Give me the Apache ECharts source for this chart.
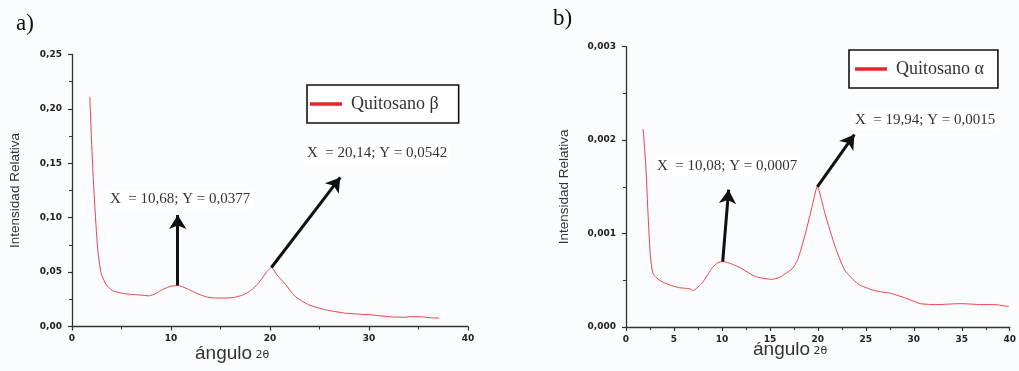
<!DOCTYPE html>
<html>
<head>
<meta charset="utf-8">
<script src="https://cdn.jsdelivr.net/npm/echarts@6/dist/echarts.min.js"></script>
<style>
  html, body { margin: 0; padding: 0; background: #fbfcfe; }
  #chart { width: 1019px; height: 371px; }
</style>
</head>
<body>
<div id="chart"></div>
<script>
// a) Quitosano beta
const betaX = [1.8, 2.0, 2.26, 2.6, 2.94, 3.45, 4.1, 5.1, 6.0, 6.8, 7.8, 8.4, 8.85, 9.4, 9.9, 10.3, 10.68, 11.3, 12.2, 13.0, 13.6, 14.5, 15.6, 16.5, 17.2, 17.9, 18.6, 19.1, 19.6, 20.14, 20.7, 21.5, 22.5, 23.9, 25.6, 27.6, 30.0, 32.4, 33.5, 34.4, 35.4, 36.3, 37.1];
const betaY = [0.211, 0.165, 0.117, 0.071, 0.049, 0.0386, 0.033, 0.0305, 0.0295, 0.029, 0.0282, 0.030, 0.0325, 0.035, 0.0368, 0.0374, 0.0377, 0.0360, 0.0322, 0.0290, 0.0272, 0.0262, 0.0262, 0.0270, 0.0288, 0.0320, 0.0375, 0.0430, 0.0495, 0.0542, 0.0475, 0.0395, 0.0280, 0.0200, 0.0154, 0.0123, 0.0108, 0.0088, 0.0085, 0.0092, 0.0088, 0.0080, 0.0077];

// b) Quitosano alpha
const alphaX = [1.79, 2.07, 2.31, 2.55, 2.83, 3.5, 4.55, 5.59, 6.6, 6.97, 8.0, 9.03, 9.6, 10.08, 10.6, 11.8, 13.5, 15.2, 16.0, 16.6, 17.3, 17.9, 18.7, 19.4, 19.94, 20.75, 21.8, 22.8, 24.2, 25.9, 27.6, 29.4, 30.7, 32.4, 34.9, 36.95, 38.3, 39.9];
const alphaY = [0.00212, 0.00171, 0.00118, 0.00075, 0.00057, 0.0005, 0.00045, 0.00042, 0.00041, 0.00039, 0.00048, 0.00064, 0.00069, 0.0007, 0.00069, 0.00064, 0.00054, 0.00051, 0.00053, 0.00057, 0.00062, 0.00072, 0.001, 0.00129, 0.0015, 0.00121, 0.00086, 0.00061, 0.00046, 0.00039, 0.00036, 0.0003, 0.00025, 0.00024, 0.00025, 0.00024, 0.00024, 0.00022];

// annotation arrows: [peakX, peakY, tipX, tipY]
const betaArrows = [[10.68, 0.0377, 10.68, 0.1025], [20.14, 0.0542, 27.1, 0.137]];
const alphaArrows = [[10.08, 0.0007, 10.7, 0.00147], [19.94, 0.0015, 23.8, 0.00206]];
const betaNotes = ['X  = 10,68; Y = 0,0377', 'X  = 20,14; Y = 0,0542'];
const alphaNotes = ['X  = 10,08; Y = 0,0007', 'X  = 19,94; Y = 0,0015'];

const chart = echarts.init(document.getElementById('chart'));

const zip = (xs, ys) => xs.map((x, i) => [x, ys[i]]);
const arrowLines = arr => arr.map(a => [
  { coord: [a[0], a[1]], symbol: 'none' },
  { coord: [a[2], a[3]], symbol: 'arrow' }
]);

const axisCommon = {
  axisLine: { lineStyle: { color: '#333', width: 1.3 } },
  axisTick: { inside: false, length: 4, lineStyle: { color: '#333', width: 1.2 } },
  minorTick: { show: true, splitNumber: 2, length: 3, lineStyle: { color: '#333' } },
  splitLine: { show: false },
  axisLabel: { fontFamily: 'DejaVu Sans', fontWeight: 'bold', fontSize: 9, color: '#222' }
};

const comma = d => v => v.toFixed(d).replace('.', ',');

const serif = 'Liberation Serif';

const note = (text, left, top) => ({
  type: 'text', left, top,
  style: { text, font: '15px "' + serif + '"', fill: '#333', backgroundColor: '#ffffff', padding: [2, 3] }
});

const xName = (left, top) => ({
  type: 'text', left, top,
  style: {
    text: '{a|ángulo} {b|2θ}',
    rich: {
      a: { fontFamily: 'Liberation Sans', fontSize: 19, lineHeight: 22, fill: '#333' },
      b: { fontFamily: 'DejaVu Sans', fontSize: 11, lineHeight: 22, fill: '#333', verticalAlign: 'middle', padding: [3, 0, 0, 0] }
    }
  }
});

const yNameStyle = { fontFamily: 'Liberation Sans', fontSize: 13.5, color: '#333' };

chart.setOption({
  backgroundColor: '#fbfcfe',
  animation: false,
  grid: [
    { left: 72, right: 551, top: 54.5, bottom: 44.5 },
    { left: 626, right: 6, top: 46.7, bottom: 44 }
  ],
  xAxis: [
    Object.assign({}, axisCommon, { gridIndex: 0, type: 'value', min: 0, max: 40, interval: 10 }),
    Object.assign({}, axisCommon, { gridIndex: 1, type: 'value', min: 0, max: 40, interval: 5 })
  ],
  yAxis: [
    Object.assign({}, axisCommon, {
      gridIndex: 0, type: 'value', min: 0, max: 0.25, interval: 0.05,
      axisLabel: Object.assign({}, axisCommon.axisLabel, { formatter: comma(2), margin: 10 }),
      name: 'Intensidad Relativa', nameLocation: 'middle', nameGap: 50,
      nameTextStyle: yNameStyle
    }),
    Object.assign({}, axisCommon, {
      gridIndex: 1, type: 'value', min: 0, max: 0.003, interval: 0.001,
      axisLabel: Object.assign({}, axisCommon.axisLabel, { formatter: comma(3), margin: 10 }),
      name: 'Intensidad Relativa', nameLocation: 'middle', nameGap: 55,
      nameTextStyle: yNameStyle
    })
  ],
  legend: [
    {
      data: ['Quitosano β'], left: 307, top: 85, width: 130,
      padding: [10, 20, 10, 3], itemGap: 0,
      borderColor: '#111', borderWidth: 1.6, backgroundColor: '#fff',
      icon: 'rect', itemWidth: 32, itemHeight: 3.5,
      textStyle: { fontFamily: serif, fontSize: 18, color: '#333', padding: [0, 0, 0, 4] }
    },
    {
      data: ['Quitosano α'], left: 849, top: 50, width: 130,
      padding: [10, 14, 10, 6], itemGap: 0,
      borderColor: '#111', borderWidth: 1.6, backgroundColor: '#fff',
      icon: 'rect', itemWidth: 32, itemHeight: 3.5,
      textStyle: { fontFamily: serif, fontSize: 18, color: '#333', padding: [0, 0, 0, 4] }
    }
  ],
  series: [
    {
      name: 'Quitosano β', type: 'line', xAxisIndex: 0, yAxisIndex: 0,
      data: zip(betaX, betaY), showSymbol: false, smooth: 0.2,
      color: '#e5242b', lineStyle: { width: 1, color: '#e8454a' },
      markLine: {
        silent: true, symbolSize: [13, 14], label: { show: false },
        lineStyle: { type: 'solid', color: '#111', width: 3 },
        data: arrowLines(betaArrows)
      }
    },
    {
      name: 'Quitosano α', type: 'line', xAxisIndex: 1, yAxisIndex: 1,
      data: zip(alphaX, alphaY), showSymbol: false, smooth: 0.2,
      color: '#e5242b', lineStyle: { width: 1, color: '#e8454a' },
      markLine: {
        silent: true, symbolSize: [13, 14], label: { show: false },
        lineStyle: { type: 'solid', color: '#111', width: 3 },
        data: arrowLines(alphaArrows)
      }
    }
  ],
  graphic: [
    { type: 'text', left: 16, top: 12, style: { text: 'a)', font: '23px "' + serif + '"', fill: '#111' } },
    { type: 'text', left: 553, top: 7, style: { text: 'b)', font: '23px "' + serif + '"', fill: '#111' } },
    note(betaNotes[0], 107, 190),
    note(betaNotes[1], 304, 144),
    note(alphaNotes[0], 654, 157),
    note(alphaNotes[1], 852, 111),
    xName(195, 344),
    xName(753, 340)
  ]
});
</script>
</body>
</html>
